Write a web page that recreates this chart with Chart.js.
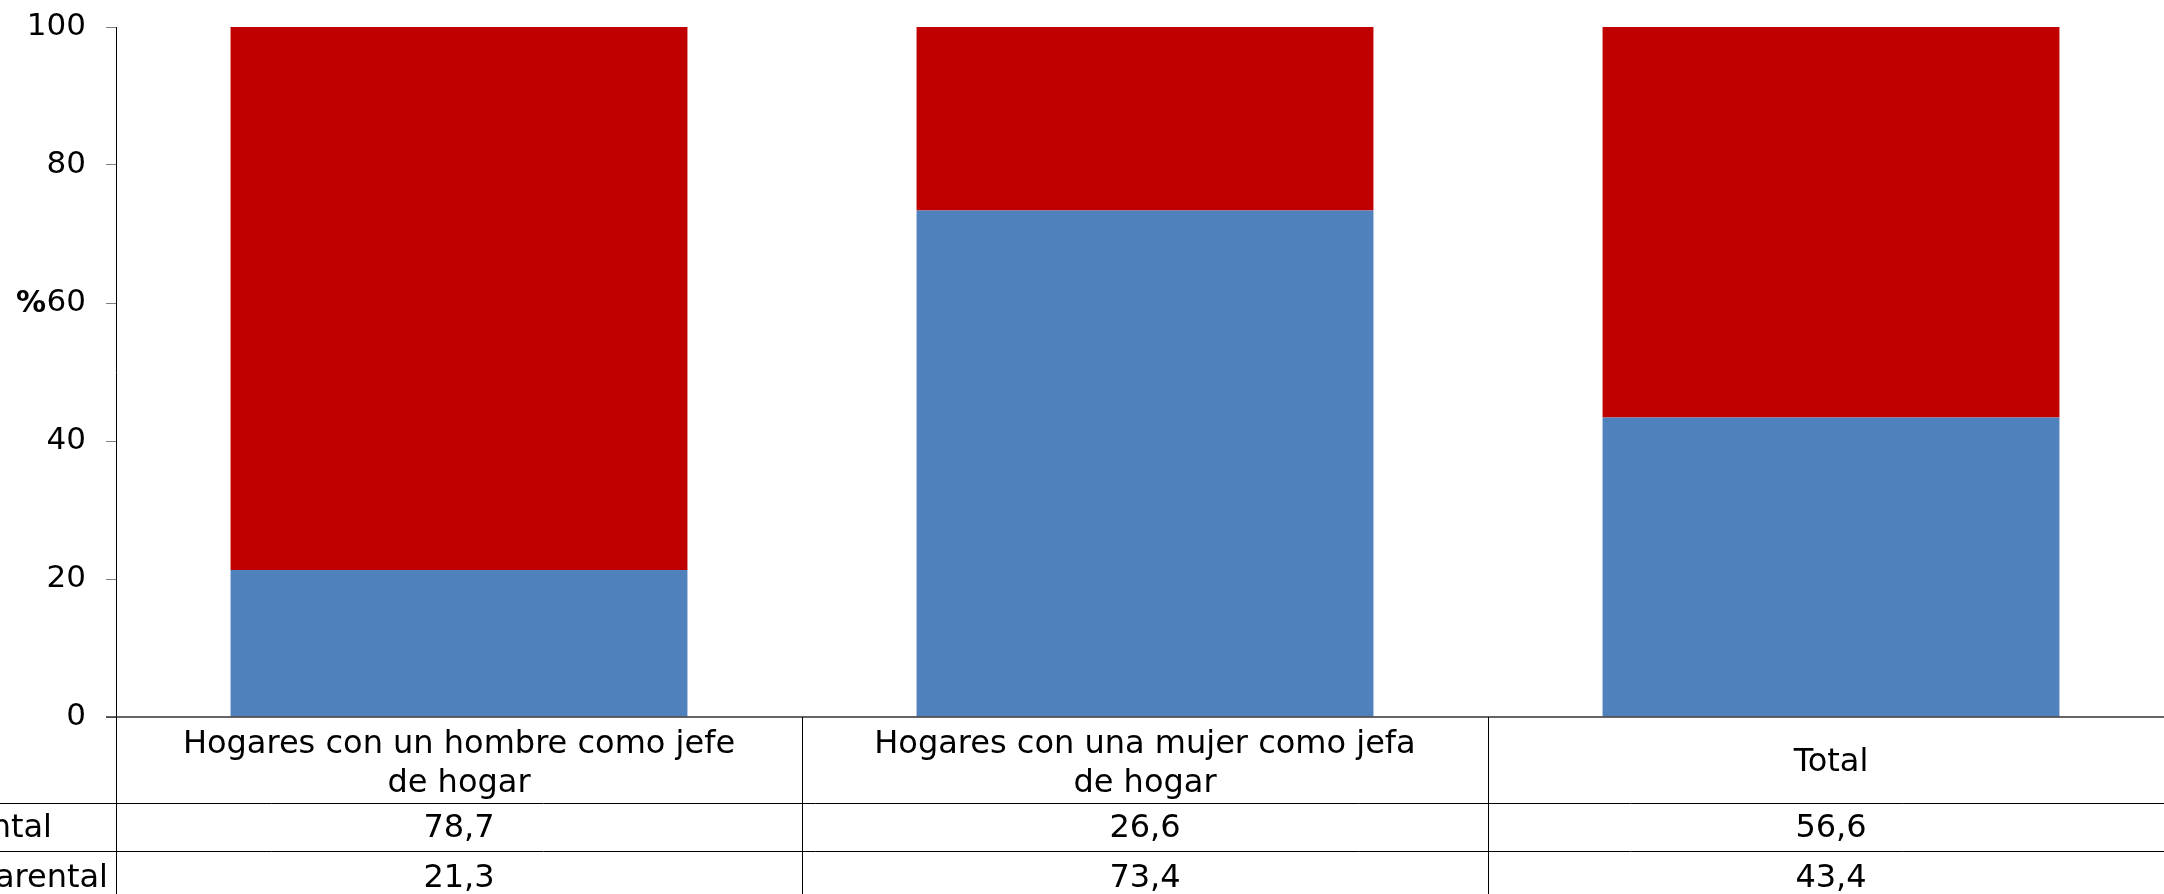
<!DOCTYPE html>
<html><head><meta charset="utf-8">
<script src="https://cdn.jsdelivr.net/npm/chart.js@4"></script>
<style>html,body{margin:0;padding:0;background:#fff;overflow:hidden}#wrap{width:2164px;height:894px;position:relative;overflow:hidden}</style>
</head><body><div id="wrap"><canvas id="c" width="2174" height="894"></canvas></div>
<script>
const categories = [["Hogares con un hombre como jefe","de hogar"],["Hogares con una mujer como jefa","de hogar"],["Total"]];
const seriesNames = ["Biparental","Monoparental"];
const biparental = [78.7, 26.6, 56.6];
const monoparental = [21.3, 73.4, 43.4];
const yTicks = [0,20,40,60,80,100];

const FONT = "'DejaVu Sans', Verdana, sans-serif";
const fmt = v => v.toFixed(1).replace('.', ',');

const tablePlugin = {
  id: 'dataTable',
  afterDraw(chart) {
    const ctx = chart.ctx;
    const x = chart.scales.x, y = chart.scales.y;
    const y0 = y.getPixelForValue(0);
    const left = chart.chartArea.left, right = chart.width;
    const r1 = y0 + 86, r2 = r1 + 48, bottom = chart.height;
    ctx.save();
    ctx.strokeStyle = '#333'; ctx.lineWidth = 1.5;
    ctx.beginPath(); ctx.moveTo(left - 10, y0); ctx.lineTo(right, y0); ctx.stroke();
    ctx.strokeStyle = '#000'; ctx.lineWidth = 1;
    ctx.beginPath();
    ctx.moveTo(0, r1 + 0.5); ctx.lineTo(right, r1 + 0.5);
    ctx.moveTo(0, r2 + 0.5); ctx.lineTo(right, r2 + 0.5);
    const n = categories.length;
    const half = (x.getPixelForValue(1) - x.getPixelForValue(0)) / 2;
    for (let i = 0; i < n; i++) {
      const bx = Math.round(x.getPixelForValue(i) - half) + 0.5;
      ctx.moveTo(bx, y0); ctx.lineTo(bx, bottom);
    }
    ctx.stroke();
    ctx.fillStyle = '#000';
    ctx.font = '32px ' + FONT;
    ctx.textAlign = 'center'; ctx.textBaseline = 'middle';
    for (let i = 0; i < n; i++) {
      const cx = x.getPixelForValue(i);
      const lines = categories[i];
      if (lines.length === 2) {
        ctx.fillText(lines[0], cx, y0 + 28);
        ctx.fillText(lines[1], cx, y0 + 67);
      } else {
        ctx.fillText(lines[0], cx, y0 + 46);
      }
      ctx.fillText(fmt(biparental[i]), cx, r1 + 26);
      ctx.fillText(fmt(monoparental[i]), cx, r2 + 28);
    }
    ctx.textAlign = 'right';
    ctx.fillText(seriesNames[0], 52, r1 + 26);
    ctx.fillText(seriesNames[1], 108, r2 + 28);
    ctx.font = 'bold 30px ' + FONT;
    ctx.textAlign = 'left'; ctx.textBaseline = 'middle';
    ctx.fillText('%', 16, y.getPixelForValue(60) + 1);
    ctx.restore();
  }
};

new Chart(document.getElementById('c'), {
  type: 'bar',
  data: {
    labels: categories.map(c => c.join(' ')),
    datasets: [
      { label: seriesNames[1], data: monoparental, backgroundColor: '#4F81BD', borderWidth: 0 },
      { label: seriesNames[0], data: biparental, backgroundColor: '#C00000', borderWidth: 0 }
    ]
  },
  options: {
    responsive: false, animation: false,
    devicePixelRatio: 1,
    layout: { padding: { top: 27, right: 0, left: 0, bottom: 0 } },
    plugins: { legend: { display: false }, tooltip: { enabled: false } },
    datasets: { bar: { categoryPercentage: 1, barPercentage: 0.666 } },
    scales: {
      x: {
        stacked: true,
        ticks: { display: false },
        grid: { display: false },
        border: { display: false },
        afterFit(s) { s.height = 177; s.paddingLeft = 0; s.paddingRight = 0; }
      },
      y: {
        stacked: true, min: 0, max: 100,
        afterBuildTicks(s) { s.ticks = yTicks.map(v => ({ value: v })); },
        ticks: { stepSize: 20, color: '#000', font: { family: FONT, size: 31 }, padding: 20 },
        grid: { drawOnChartArea: false, tickLength: 10, color: '#808080' },
        border: { display: true, color: '#000', width: 1 },
        afterFit(s) { s.width = 116; s.paddingTop = 0; s.paddingBottom = 0; }
      }
    }
  },
  plugins: [tablePlugin]
});
</script></body></html>
